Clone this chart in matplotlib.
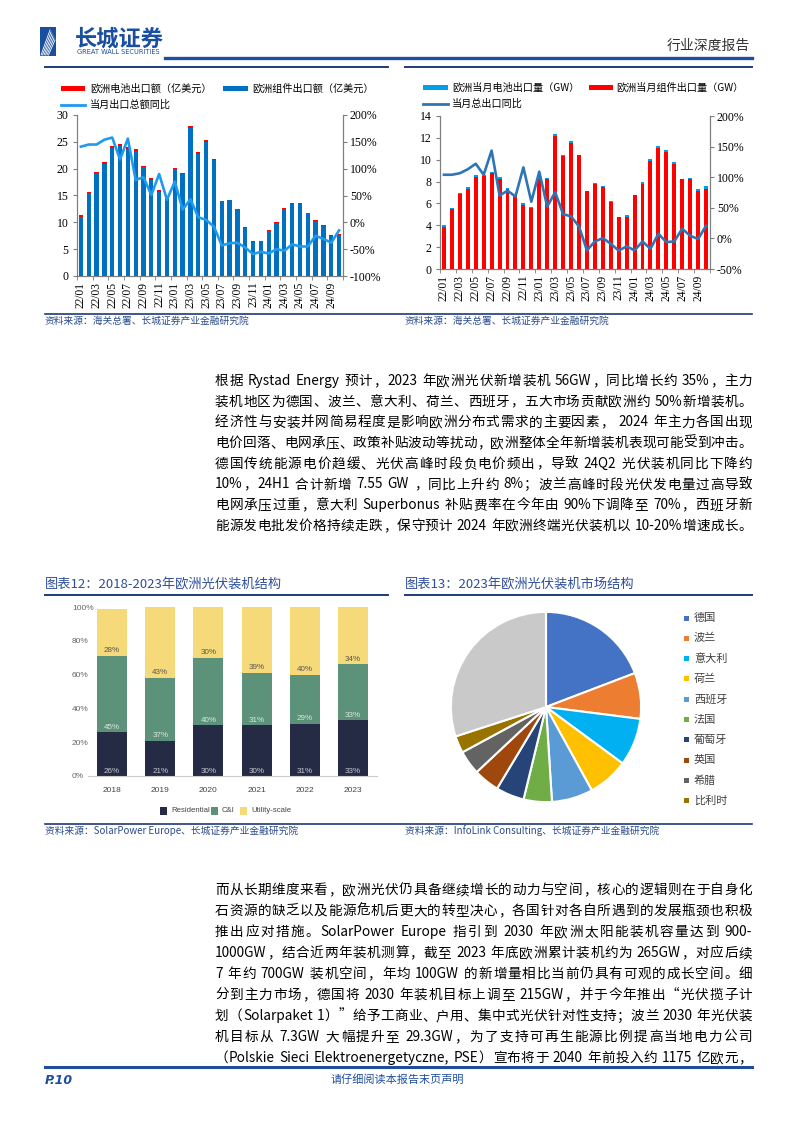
import re
import numpy as np
import matplotlib
matplotlib.use('Agg')
import matplotlib.pyplot as plt
from matplotlib.patches import Rectangle
from matplotlib.lines import Line2D

W, H = 794, 1123
CJK = ['Noto Sans CJK SC', 'DejaVu Sans']
SERIF = ['Liberation Serif', 'DejaVu Serif']
SANS = ['Liberation Sans', 'DejaVu Sans']
plt.rcParams['font.family'] = CJK

# ---- data ----
months = [f'{yy}/{mm:02d}' for yy in (22, 23, 24) for mm in range(1, 13)][:34]

# chart 1: export value (100m USD) and yoy
module_value = [11.0, 15.5, 19.2, 20.9, 23.9, 24.3, 23.7, 23.2, 20.3, 17.9, 15.7, 14.2,
                19.9, 19.0, 27.6, 22.8, 25.0, 21.7, 13.9, 14.1, 12.4, 9.0, 6.4, 6.5,
                8.4, 9.9, 12.5, 13.5, 13.5, 11.7, 10.3, 9.4, 7.5, 7.6]
cell_value = [0.4, 0.2, 0.2, 0.3, 0.3, 0.3, 0.3, 0.4, 0.2, 0.3, 0.4, 0.3,
              0.2, 0.2, 0.3, 0.3, 0.3, 0.1, 0.1, 0.1, 0.1, 0.1, 0.1, 0.1,
              0.1, 0.1, 0.2, 0.1, 0.1, 0.1, 0.1, 0.1, 0.1, 0.2]
value_yoy = [141, 145, 145, 154, 158, 117, 156, 79, 84, 51, 90, 42,
             76, 24, 43, 9.5, 4.5, -8, -43, -39, -38, -47, -59, -55,
             -58, -50, -53, -41, -45, -45, -25, -31, -38, -15]

# chart 2: export volume (GW) and yoy
module_gw = [3.85, 5.45, 6.9, 7.35, 8.45, 8.5, 8.75, 8.25, 7.3, 6.7, 5.9, 5.55,
             8.25, 8.25, 12.2, 10.3, 11.55, 10.4, 7.1, 7.8, 7.5, 6.1, 4.75, 4.8,
             6.75, 7.8, 9.9, 11.1, 10.75, 9.65, 8.2, 8.2, 7.1, 7.3]
cell_gw = [0.2, 0.15, 0.1, 0.15, 0.15, 0.1, 0.15, 0.2, 0.15, 0.1, 0.15, 0.15,
           0.15, 0.1, 0.15, 0.15, 0.15, 0.05, 0.05, 0.05, 0.05, 0.15, 0.05, 0.15,
           0.05, 0.15, 0.15, 0.15, 0.15, 0.15, 0.05, 0.15, 0.25, 0.25]
volume_yoy = [104, 104, 106.5, 113, 122, 104, 143.5, 70, 78, 68.5, 116, 60,
              109, 52, 75.5, 39.7, 36, 19.6, -19.6, -5, 0.5, -8.7, -20, -13,
              -19.6, -5, -17, 7.6, -6, -5, 15.8, 4.3, -1, 20.6]

# chart 3: installation structure (%)
years = ['2018', '2019', '2020', '2021', '2022', '2023']
residential = [26, 21, 30, 30, 31, 33]
cni = [45, 37, 40, 31, 29, 33]
utility = [28, 43, 30, 39, 40, 34]

# chart 4: market share 2023 (%)
countries = ['德国', '波兰', '意大利', '荷兰', '西班牙', '法国', '葡萄牙', '英国', '希腊', '比利时', '其他']
shares = [19.2, 7.8, 8.1, 6.9, 7.0, 4.8, 4.8, 4.4, 4.1, 2.9, 30.0]
pie_colors = ['#4472C4', '#ED7D31', '#00B0F0', '#FFC000', '#5B9BD5', '#70AD47',
              '#264478', '#9E480E', '#636363', '#997300', '#C9C9C9']

para1 = [
    '根据 Rystad Energy 预计，2023 年欧洲光伏新增装机 56GW，同比增长约 35%，主力',
    '装机地区为德国、波兰、意大利、荷兰、西班牙，五大市场贡献欧洲约 50%新增装机。',
    '经济性与安装并网简易程度是影响欧洲分布式需求的主要因素， 2024 年主力各国出现',
    '电价回落、电网承压、政策补贴波动等扰动，欧洲整体全年新增装机表现可能受到冲击。',
    '德国传统能源电价趋缓、光伏高峰时段负电价频出，导致 24Q2 光伏装机同比下降约',
    '10%，24H1 合计新增 7.55 GW ，同比上升约 8%；波兰高峰时段光伏发电量过高导致',
    '电网承压过重，意大利 Superbonus 补贴费率在今年由 90%下调降至 70%，西班牙新',
    '能源发电批发价格持续走跌，保守预计 2024 年欧洲终端光伏装机以 10-20%增速成长。',
]
para2 = [
    '而从长期维度来看，欧洲光伏仍具备继续增长的动力与空间，核心的逻辑则在于自身化',
    '石资源的缺乏以及能源危机后更大的转型决心，各国针对各自所遇到的发展瓶颈也积极',
    '推出应对措施。SolarPower Europe 指引到 2030 年欧洲太阳能装机容量达到 900-',
    '1000GW，结合近两年装机测算，截至 2023 年底欧洲累计装机约为 265GW，对应后续',
    '7 年约 700GW 装机空间，年均 100GW 的新增量相比当前仍具有可观的成长空间。细',
    '分到主力市场，德国将 2030 年装机目标上调至 215GW，并于今年推出“光伏揽子计',
    '划（Solarpaket 1）”给予工商业、户用、集中式光伏针对性支持；波兰 2030 年光伏装',
    '机目标从 7.3GW 大幅提升至 29.3GW，为了支持可再生能源比例提高当地电力公司',
    '（Polskie Sieci Elektroenergetyczne, PSE）宣布将于 2040 年前投入约 1175 亿欧元，',
]

BLUE = '#1F4E9F'
NAVY = '#1F3A78'

fig = plt.figure(figsize=(W / 100, H / 100), dpi=100)
renderer = fig.canvas.get_renderer()


def fx(x):
    return x / W


def fy(y):
    return 1 - y / H


def box(x0, y0, x1, y1):
    return [fx(x0), fy(y1), (x1 - x0) / W, (y1 - y0) / H]


def hline(x0, x1, y, color, lw):
    fig.add_artist(Line2D([fx(x0), fx(x1)], [fy(y), fy(y)], color=color, lw=lw,
                          transform=fig.transFigure))


def rect(x0, y0, x1, y1, color):
    fig.add_artist(Rectangle((fx(x0), fy(y1)), (x1 - x0) / W, (y1 - y0) / H,
                             facecolor=color, lw=0, transform=fig.transFigure))


def body_line(y, s, x0=215, x1=752):
    # spread the pieces of one line so it fills the column (justified text)
    toks = re.findall(r'[\x21-\x7e]+| +|[^\x00-\x7f]', s)
    items = []
    for tk in toks:
        if tk.strip() == '':
            items.append((None, 3.5 * len(tk)))
            continue
        t = fig.text(0, fy(y), tk, fontsize=9.8, family=CJK, color='black', va='center')
        items.append((t, t.get_window_extent(renderer).width))
    total = sum(w for _, w in items)
    gap = max((x1 - x0 - total) / max(len(items) - 1, 1), 0)
    x = x0
    for t, w in items:
        if t is not None:
            t.set_x(fx(x))
        x += w + gap


# ---- page header / footer ----
rect(40, 27, 56, 56, '#1A4E9E')
for k in range(6):
    fig.add_artist(Line2D([fx(41 + k * 1.5), fx(50 + k)], [fy(55), fy(30 + k * 2)],
                          color='white', lw=0.6, transform=fig.transFigure))
fig.text(fx(75), fy(39), '长城证券', fontsize=16, fontweight='bold', color='#1A4E9E', va='center')
fig.text(fx(77), fy(52.5), 'GREAT WALL SECURITIES', fontsize=4.8, color='#1A4E9E',
         va='center', family='DejaVu Sans')
fig.text(fx(750), fy(46), '行业深度报告', fontsize=10, color='#333333', ha='right', va='center')
hline(165, 752, 57.5, BLUE, 2.4)

hline(45, 752, 1067, BLUE, 2.2)
fig.text(fx(45), fy(1080), 'P.10', fontsize=9, fontweight='bold', fontstyle='italic',
         color=BLUE, family='DejaVu Sans', va='center')
fig.text(fx(397), fy(1080), '请仔细阅读本报告末页声明', fontsize=8, color=BLUE, ha='center', va='center')

# ---- chart 1 ----
hline(45, 388, 67, NAVY, 1.4)
hline(405, 752, 67, NAVY, 1.4)

rect(61, 86, 85, 90.5, '#FF0000')
fig.text(fx(90), fy(88.5), '欧洲电池出口额（亿美元）', fontsize=7.3, va='center')
rect(223, 86, 248, 90.5, '#0070C0')
fig.text(fx(252), fy(88.5), '欧洲组件出口额（亿美元）', fontsize=7.3, va='center')
fig.add_artist(Line2D([fx(61), fx(85)], [fy(105), fy(105)], color='#1E9BF0', lw=2,
                      transform=fig.transFigure))
fig.text(fx(90), fy(105), '当月出口总额同比', fontsize=7.3, va='center')

x = np.arange(len(months))


def style_dual(ax, axr):
    for a in (ax, axr):
        a.spines['top'].set_visible(False)
        for s in ('left', 'right', 'bottom'):
            a.spines[s].set_color('#7F7F7F')
            a.spines[s].set_linewidth(0.8)
    ax.set_xlim(-0.5, len(months) - 0.5)
    ax.set_xticks(x[::2])
    ax.set_xticklabels(months[::2], rotation=90, fontsize=8.3, family=SERIF)
    ax.set_xticks(np.arange(-0.5, len(months), 2), minor=True)
    ax.tick_params(axis='x', which='major', length=0, pad=4)
    ax.tick_params(axis='x', which='minor', length=3, color='#7F7F7F')
    ax.tick_params(axis='y', length=3, color='#7F7F7F', pad=3)
    axr.tick_params(axis='y', length=3, color='#7F7F7F', pad=2)
    for lab in ax.get_yticklabels() + axr.get_yticklabels():
        lab.set_family(SERIF)
        lab.set_fontsize(8.5)


ax1 = fig.add_axes(box(77, 115, 343, 276))
ax1.bar(x, module_value, width=0.55, color='#0070C0', zorder=2)
ax1.bar(x, cell_value, bottom=module_value, width=0.55, color='#FF0000', zorder=2)
ax1.set_ylim(0, 30)
ax1.set_yticks(range(0, 31, 5))
ax1r = ax1.twinx()
ax1r.plot(x, value_yoy, color='#1E9BF0', lw=1.9)
ax1r.set_ylim(-100, 200)
ax1r.set_yticks(range(-100, 201, 50))
ax1r.set_yticklabels([f'{v}%' for v in range(-100, 201, 50)])
style_dual(ax1, ax1r)

# ---- chart 2 ----
rect(423, 85, 448, 89.5, '#00A0E9')
fig.text(fx(452), fy(87.5), '欧洲当月电池出口量（GW）', fontsize=7.3, va='center')
rect(589, 85, 613, 89.5, '#FF0000')
fig.text(fx(616), fy(87.5), '欧洲当月组件出口量（GW）', fontsize=7.3, va='center')
fig.add_artist(Line2D([fx(423), fx(448)], [fy(104), fy(104)], color='#2E75B6', lw=2,
                      transform=fig.transFigure))
fig.text(fx(452), fy(104), '当月总出口同比', fontsize=7.3, va='center')

ax2 = fig.add_axes(box(440, 116, 710, 269))
ax2.bar(x, module_gw, width=0.5, color='#FF0000', zorder=2)
ax2.bar(x, cell_gw, bottom=module_gw, width=0.5, color='#00A0E9', zorder=2)
ax2.set_ylim(0, 14)
ax2.set_yticks(range(0, 15, 2))
ax2r = ax2.twinx()
ax2r.plot(x, volume_yoy, color='#2E75B6', lw=1.9)
ax2r.set_ylim(-50, 200)
ax2r.set_yticks(range(-50, 201, 50))
ax2r.set_yticklabels([f'{v}%' for v in range(-50, 201, 50)])
style_dual(ax2, ax2r)

hline(45, 752, 314, NAVY, 1.2)
fig.text(fx(45), fy(321), '资料来源：海关总署、长城证券产业金融研究院', fontsize=7, color='#2B4C8C', va='center')
fig.text(fx(405), fy(321), '资料来源：海关总署、长城证券产业金融研究院', fontsize=7, color='#2B4C8C', va='center')

# ---- paragraph 1 ----
for i, line in enumerate(para1):
    body_line(381 + 20.7 * i, line)

# ---- chart 3 ----
fig.text(fx(45), fy(585), '图表12：2018-2023年欧洲光伏装机结构', fontsize=9.5, color='#2E4D9A', va='center')
fig.text(fx(405), fy(585), '图表13：2023年欧洲光伏装机市场结构', fontsize=9.5, color='#2E4D9A', va='center')
hline(45, 388, 595, NAVY, 1.4)
hline(405, 752, 595, NAVY, 1.4)

ax3 = fig.add_axes(box(88, 607, 377, 776))
xi = np.arange(len(years))
res = np.array(residential)
ci = np.array(cni)
ax3.bar(xi, res, width=0.62, color='#252B45')
ax3.bar(xi, ci, bottom=res, width=0.62, color='#5C917A')
ax3.bar(xi, utility, bottom=res + ci, width=0.62, color='#F6DA7A')
for i in range(len(years)):
    ax3.text(xi[i], 2.5, f'{residential[i]}%', ha='center', va='center', fontsize=5.8,
             color='#C8CAD2', family=SANS)
    ax3.text(xi[i], res[i] + 2.8, f'{cni[i]}%', ha='center', va='center', fontsize=5.8,
             color='#DCE8E0', family=SANS)
    ax3.text(xi[i], res[i] + ci[i] + 3.2, f'{utility[i]}%', ha='center', va='center',
             fontsize=5.8, color='#555555', family=SANS)
ax3.set_xlim(-0.5, len(years) - 0.5)
ax3.set_ylim(0, 100)
ax3.set_yticks(range(0, 101, 20))
ax3.set_yticklabels([f'{v}%' for v in range(0, 101, 20)])
ax3.set_xticks(xi)
ax3.set_xticklabels(years)
for s in ('top', 'right', 'left'):
    ax3.spines[s].set_visible(False)
ax3.spines['bottom'].set_color('#CCCCCC')
ax3.tick_params(axis='x', length=0, pad=8, labelsize=6, labelcolor='#444444')
ax3.tick_params(axis='y', length=0, pad=11.5, labelsize=6, labelcolor='#666666')
for lab in ax3.get_yticklabels():
    lab.set_ha('left')
for lab in ax3.get_xticklabels() + ax3.get_yticklabels():
    lab.set_family(SANS)

leg3 = [('Residential', '#252B45', 160), ('C&I', '#5C917A', 211), ('Utility-scale', '#F6DA7A', 240)]
for name, col, lx in leg3:
    rect(lx, 807, lx + 7, 815, col)
    fig.text(fx(lx + 11), fy(811), name, fontsize=5.6, color='#444444', va='center', family=SANS)

# ---- chart 4 ----
ax4 = fig.add_axes(box(449, 610, 643, 804))
ax4.pie(shares, colors=pie_colors, startangle=90, counterclock=False,
        wedgeprops=dict(edgecolor='white', linewidth=1.5))
ax4.set_xlim(-1.02, 1.02)
ax4.set_ylim(-1.02, 1.02)
for i, name in enumerate(countries[:10]):
    ly = 618 + 20.3 * i
    rect(684, ly - 2.5, 689, ly + 2.5, pie_colors[i])
    fig.text(fx(694), fy(ly), name, fontsize=8, color='#404040', va='center')

hline(45, 752, 824, NAVY, 1.2)
fig.text(fx(45), fy(831), '资料来源：SolarPower Europe、长城证券产业金融研究院', fontsize=7,
         color='#2B4C8C', va='center')
fig.text(fx(405), fy(831), '资料来源：InfoLink Consulting、长城证券产业金融研究院', fontsize=7,
         color='#2B4C8C', va='center')

# ---- paragraph 2 ----
for i, line in enumerate(para2):
    body_line(890 + 21 * i, line)

fig.savefig('out.png', dpi=100)
